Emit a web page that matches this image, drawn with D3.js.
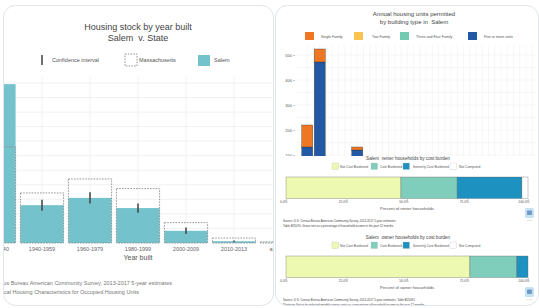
<!DOCTYPE html>
<html>
<head>
<meta charset="utf-8">
<script src="https://cdn.jsdelivr.net/npm/d3@7"></script>
<style>
  body { margin: 0; background: #fff; }
  svg { display: block; font-family: "Liberation Sans", Arial, sans-serif; }
</style>
</head>
<body>
<div id="chart"></div>
<script>
// ---- data ----
// housing stock by year built (percent of units)
var yearBuilt = ["Before 1940", "1940-1959", "1960-1979", "1980-1999", "2000-2009", "2010-2013", "after 2013"];
var salemPct = [54.6, 13.0, 15.5, 12.0, 4.2, 0.6, 0.1];
var salemMoe = [2.0, 1.9, 1.9, 1.6, 1.1, 0.3, 0.1];
var massPct = [33.0, 17.2, 22.0, 18.7, 7.0, 1.7, 0.4];

// annual permits by building type
var permitYears = ["2000", "2001", "2002", "2003", "2004", "2005", "2006", "2007", "2008", "2009",
                   "2010", "2011", "2012", "2013", "2014", "2015", "2016", "2017", "2018"];
var singleFamily = [88, 52, 30, 25, 12, 20, 15, 10, 8, 6, 8, 10, 12, 15, 14, 12, 16, 18, 14];
var twoFamily = [0, 0, 2, 2, 0, 2, 0, 2, 0, 0, 2, 0, 2, 2, 0, 2, 2, 0, 2];
var threeFourFamily = [0, 0, 0, 3, 0, 0, 3, 0, 0, 0, 0, 3, 0, 0, 3, 0, 0, 3, 0];
var fivePlus = [132, 472, 20, 10, 120, 15, 10, 0, 0, 0, 0, 5, 20, 30, 40, 60, 45, 30, 50];
var permitTicks = [100, 200, 300, 400, 500];

// cost burden shares (percent of households)
var burdenTypes = ["Not Cost Burdened", "Cost Burdened", "Severely Cost Burdened", "Not Computed"];
var renterBurden = [47.5, 23.2, 26.8, 2.5];
var ownerBurden = [76.0, 19.4, 4.6, 0.0];
var pctTicks = [0, 25, 50, 75, 100];

var W = 539, H = 308;
var svg = d3.select("#chart").append("svg")
    .attr("width", W)
    .attr("height", H);

var defs = svg.append("defs");
defs.append("clipPath").attr("id", "leftClip")
  .append("rect").attr("x", 3.5).attr("y", 5.5).attr("width", 270).attr("height", 300).attr("rx", 12);
defs.append("clipPath").attr("id", "rightClip")
  .append("rect").attr("x", 275.5).attr("y", 5.5).attr("width", 263).attr("height", 300).attr("rx", 12);
defs.append("clipPath").attr("id", "permitClip")
  .append("rect").attr("x", 276).attr("y", 6).attr("width", 262).attr("height", 150);

// ================= left panel: housing stock =================
var left = svg.append("g").attr("clip-path", "url(#leftClip)");
left.append("rect").attr("x", 3.5).attr("y", 5.5).attr("width", 270).attr("height", 300).attr("fill", "#fff");

var x = d3.scaleBand().domain(yearBuilt).range([-30, 306]).paddingInner(0.1).paddingOuter(0.05);
var y = d3.scaleLinear().domain([0, 57]).range([243, 243 - 57 * 2.91]);

// grid
left.selectAll(".hgrid")
  .data(d3.range(5, 57, 5))
  .enter().append("line")
    .attr("x1", 3).attr("x2", 273)
    .attr("y1", function(d) { return y(d); })
    .attr("y2", function(d) { return y(d); })
    .attr("stroke", "#ebebeb").attr("stroke-width", 0.7);
left.selectAll(".vgrid")
  .data(yearBuilt)
  .enter().append("line")
    .attr("x1", function(d) { return x(d) + x.bandwidth() / 2; })
    .attr("x2", function(d) { return x(d) + x.bandwidth() / 2; })
    .attr("y1", y(57)).attr("y2", 243)
    .attr("stroke", "#ebebeb").attr("stroke-width", 0.7);

// salem bars
left.selectAll(".salem")
  .data(yearBuilt)
  .enter().append("rect")
    .attr("x", function(d) { return x(d); })
    .attr("width", x.bandwidth())
    .attr("y", function(d, i) { return y(salemPct[i]); })
    .attr("height", function(d, i) { return y(0) - y(salemPct[i]); })
    .attr("fill", "#74c2cb");

// massachusetts outline
left.selectAll(".mass")
  .data(yearBuilt)
  .enter().append("rect")
    .attr("x", function(d) { return x(d); })
    .attr("width", x.bandwidth())
    .attr("y", function(d, i) { return y(massPct[i]); })
    .attr("height", function(d, i) { return y(0) - y(massPct[i]); })
    .attr("fill", "none")
    .attr("stroke", "#8c8c8c").attr("stroke-width", 0.9)
    .attr("stroke-dasharray", "1.6,1.2");

// confidence intervals
left.selectAll(".ci")
  .data(yearBuilt)
  .enter().append("line")
    .attr("x1", function(d) { return x(d) + x.bandwidth() / 2; })
    .attr("x2", function(d) { return x(d) + x.bandwidth() / 2; })
    .attr("y1", function(d, i) { return y(salemPct[i] + salemMoe[i]); })
    .attr("y2", function(d, i) { return y(salemPct[i] - salemMoe[i]); })
    .attr("stroke", "#4a4a4a").attr("stroke-width", 1.6);

// x axis labels
left.selectAll(".xlab")
  .data(yearBuilt)
  .enter().append("text")
    .attr("x", function(d) { return x(d) + x.bandwidth() / 2; })
    .attr("y", 251)
    .attr("text-anchor", "middle")
    .attr("font-size", 5.5)
    .attr("fill", "#666")
    .text(function(d) { return d; });
left.append("text").attr("x", 138).attr("y", 260).attr("text-anchor", "middle")
  .attr("font-size", 7).attr("fill", "#555").text("Year built");

// titles
left.append("text").attr("x", 138).attr("y", 30).attr("text-anchor", "middle")
  .attr("font-size", 9).attr("fill", "#444").text("Housing stock by year built");
left.append("text").attr("x", 138).attr("y", 41).attr("text-anchor", "middle")
  .attr("font-size", 9).attr("fill", "#444").attr("xml:space", "preserve").text("Salem  v. State");

// legend
left.append("line").attr("x1", 42).attr("x2", 42).attr("y1", 55).attr("y2", 65)
  .attr("stroke", "#4a4a4a").attr("stroke-width", 1.6);
left.append("text").attr("x", 52).attr("y", 62).attr("font-size", 5.5).attr("fill", "#555").text("Confidence interval");
left.append("rect").attr("x", 125).attr("y", 54).attr("width", 12).attr("height", 12)
  .attr("fill", "none").attr("stroke", "#8c8c8c").attr("stroke-width", 0.9).attr("stroke-dasharray", "1.6,1.2");
left.append("text").attr("x", 139).attr("y", 62).attr("font-size", 5.5).attr("fill", "#555").text("Massachusetts");
left.append("rect").attr("x", 198).attr("y", 55).attr("width", 12).attr("height", 11).attr("fill", "#74c2cb");
left.append("text").attr("x", 214).attr("y", 62).attr("font-size", 5.5).attr("fill", "#555").text("Salem");

// caption (cut off at the card edge, as in the source image)
left.append("text").attr("x", 172).attr("y", 285).attr("text-anchor", "end")
  .attr("font-size", 5.5).attr("fill", "#777")
  .text("Source: U.S. Census Bureau American Community Survey, 2013-2017 5-year estimates");
left.append("text").attr("x", 139).attr("y", 294).attr("text-anchor", "end")
  .attr("font-size", 5.5).attr("fill", "#777")
  .text("Table B25034: Physical Housing Characteristics for Occupied Housing Units");

// ================= right panel =================
var right = svg.append("g").attr("clip-path", "url(#rightClip)");
right.append("rect").attr("x", 275.5).attr("y", 5.5).attr("width", 263).attr("height", 300).attr("fill", "#fff");

// ---- permits chart ----
var permits = right.append("g").attr("clip-path", "url(#permitClip)");
var px = d3.scaleBand().domain(permitYears).range([301, 538.5]).paddingInner(0.12).paddingOuter(0.06);
var py = d3.scaleLinear().domain([0, 540]).range([180, 45]);

permits.selectAll(".phgrid")
  .data(d3.range(50, 541, 50))
  .enter().append("line")
    .attr("x1", 296).attr("x2", 537)
    .attr("y1", function(d) { return py(d); }).attr("y2", function(d) { return py(d); })
    .attr("stroke", "#ececec").attr("stroke-width", 0.5);
var vgx = [];
permitYears.forEach(function(d) { vgx.push(px(d) + px.bandwidth() / 2); vgx.push(px(d) + px.bandwidth() / 2 + px.step() / 2); });
permits.selectAll(".pvgrid")
  .data(vgx)
  .enter().append("line")
    .attr("x1", function(d) { return d; }).attr("x2", function(d) { return d; })
    .attr("y1", py(540)).attr("y2", 180)
    .attr("stroke", "#ececec").attr("stroke-width", 0.5);

var permitKeys = ["fivePlus", "threeFour", "twoFamily", "singleFamily"];
var permitColors = { singleFamily: "#ef7622", twoFamily: "#fbc34f", threeFour: "#72cbb1", fivePlus: "#2358a5" };
var permitRows = permitYears.map(function(yr, i) {
  return { year: yr, singleFamily: singleFamily[i], twoFamily: twoFamily[i], threeFour: threeFourFamily[i], fivePlus: fivePlus[i] };
});
var stacked = d3.stack().keys(permitKeys)(permitRows);
permits.selectAll(".layer")
  .data(stacked)
  .enter().append("g")
    .attr("fill", function(d) { return permitColors[d.key]; })
  .selectAll("rect")
  .data(function(d) { return d; })
  .enter().append("rect")
    .attr("x", function(d) { return px(d.data.year); })
    .attr("width", px.bandwidth())
    .attr("y", function(d) { return py(d[1]); })
    .attr("height", function(d) { return py(d[0]) - py(d[1]); })
    .attr("stroke", "#333").attr("stroke-width", 0.35);

var pAxis = permits.append("g")
    .attr("transform", "translate(295,0)")
    .call(d3.axisLeft(py).tickValues(permitTicks).tickSize(2).tickPadding(1));
pAxis.select(".domain").remove();
pAxis.selectAll("text").attr("font-size", 4).attr("fill", "#555");
pAxis.selectAll("line").attr("stroke", "#777").attr("stroke-width", 0.4);

right.append("text").attr("x", 414).attr("y", 16).attr("text-anchor", "middle")
  .attr("font-size", 6).attr("fill", "#444").text("Annual housing units permitted");
right.append("text").attr("x", 414).attr("y", 24).attr("text-anchor", "middle")
  .attr("font-size", 6).attr("fill", "#444").attr("xml:space", "preserve").text("by building type in  Salem");

var permitLegend = [
  { key: "singleFamily", label: "Single Family", sx: 305, tx: 321 },
  { key: "twoFamily", label: "Two Family", sx: 354, tx: 372 },
  { key: "threeFour", label: "Three and Four Family", sx: 400, tx: 416 },
  { key: "fivePlus", label: "Five or more units", sx: 468, tx: 484 }
];
var pl = right.selectAll(".plegend").data(permitLegend).enter().append("g");
pl.append("rect").attr("x", function(d) { return d.sx; }).attr("y", 32).attr("width", 9).attr("height", 8)
  .attr("fill", function(d) { return permitColors[d.key]; });
pl.append("text").attr("x", function(d) { return d.tx; }).attr("y", 37.5)
  .attr("font-size", 3.6).attr("fill", "#555").text(function(d) { return d.label; });

// ---- cost burden charts ----
var burdenColors = ["#edf8b1", "#7fcdbb", "#1d91c0", "#ffffff"];
var bx = d3.scaleLinear().domain([0, 100]).range([286, 528]);
var legendPos = [
  { sx: 332, tx: 340 },
  { sx: 371, tx: 380 },
  { sx: 403, tx: 413 },
  { sx: 450, tx: 459 }
];

function burdenChart(top, title, values, axisTitle, caption1, caption2) {
  var g = right.append("g");
  g.append("text").attr("x", 408).attr("y", top + 2).attr("text-anchor", "middle")
    .attr("font-size", 4.6).attr("fill", "#444").attr("xml:space", "preserve").text(title);

  var lg = g.selectAll(".blegend").data(burdenTypes).enter().append("g");
  lg.append("rect").attr("x", function(d, i) { return legendPos[i].sx; }).attr("y", top + 5)
    .attr("width", 6.5).attr("height", 6.5)
    .attr("fill", function(d, i) { return burdenColors[i]; })
    .attr("stroke", "#bbb").attr("stroke-width", 0.3);
  lg.append("text").attr("x", function(d, i) { return legendPos[i].tx; }).attr("y", top + 9.5)
    .attr("font-size", 3.3).attr("fill", "#555").text(function(d) { return d; });

  var cum = 0;
  var segs = values.map(function(v, i) { var s = { x0: cum, x1: cum + v, i: i }; cum += v; return s; });
  g.selectAll(".seg").data(segs).enter().append("rect")
    .attr("x", function(d) { return bx(d.x0); })
    .attr("width", function(d) { return bx(d.x1) - bx(d.x0); })
    .attr("y", top + 19).attr("height", 21.5)
    .attr("fill", function(d) { return burdenColors[d.i]; })
    .attr("stroke", "#666").attr("stroke-width", 0.35);

  var ax = g.append("g").attr("transform", "translate(0," + (top + 41) + ")")
    .call(d3.axisBottom(bx).tickValues(pctTicks).tickSize(1.5).tickPadding(0.5)
      .tickFormat(function(d) { return d3.format(".1f")(d) + "%"; }));
  ax.select(".domain").remove();
  ax.selectAll("line").attr("stroke", "#777").attr("stroke-width", 0.4);
  ax.selectAll("text").attr("font-size", 3.3).attr("fill", "#555").attr("text-anchor", "end").attr("dx", "0.3em");

  g.append("text").attr("x", 407).attr("y", top + 52).attr("text-anchor", "middle")
    .attr("font-size", 4.2).attr("fill", "#555").text(axisTitle);
  g.append("text").attr("x", 283).attr("y", top + 64).attr("font-size", 2.9).attr("fill", "#444").text(caption1);
  g.append("text").attr("x", 283).attr("y", top + 68.5).attr("font-size", 2.9).attr("fill", "#444").text(caption2);

  // small logo mark
  g.append("rect").attr("x", 525).attr("y", top + 50).attr("width", 9).attr("height", 10).attr("rx", 1.5)
    .attr("fill", "#c6e2f3");
  g.append("rect").attr("x", 527).attr("y", top + 52.5).attr("width", 5).attr("height", 4.5).attr("rx", 0.8)
    .attr("fill", "#6f9cc4");
  g.append("text").attr("x", 529.5).attr("y", top + 62.5).attr("text-anchor", "middle")
    .attr("font-size", 1.8).attr("fill", "#aaa").text("MAPC");
}

burdenChart(158, "Salem  renter households by cost burden", renterBurden, "Percent of renter households",
  "Source: U.S. Census Bureau American Community Survey, 2013-2017 5-year estimates",
  "Table B25070: Gross rent as a percentage of household income in the past 12 months");
burdenChart(237, "Salem  owner households by cost burden", ownerBurden, "Percent of owner households",
  "Source: U.S. Census Bureau American Community Survey, 2013-2017 5-year estimates. Table B25091",
  "Mortgage Status by selected monthly owner costs as a percentage of household income in the past 12 months");

// card borders
svg.append("rect").attr("x", 3.5).attr("y", 5.5).attr("width", 270).attr("height", 300).attr("rx", 12)
  .attr("fill", "none").attr("stroke", "#dfe5ea").attr("stroke-width", 1);
svg.append("rect").attr("x", 275.5).attr("y", 5.5).attr("width", 263).attr("height", 300).attr("rx", 12)
  .attr("fill", "none").attr("stroke", "#dfe5ea").attr("stroke-width", 1);
</script>
</body>
</html>
